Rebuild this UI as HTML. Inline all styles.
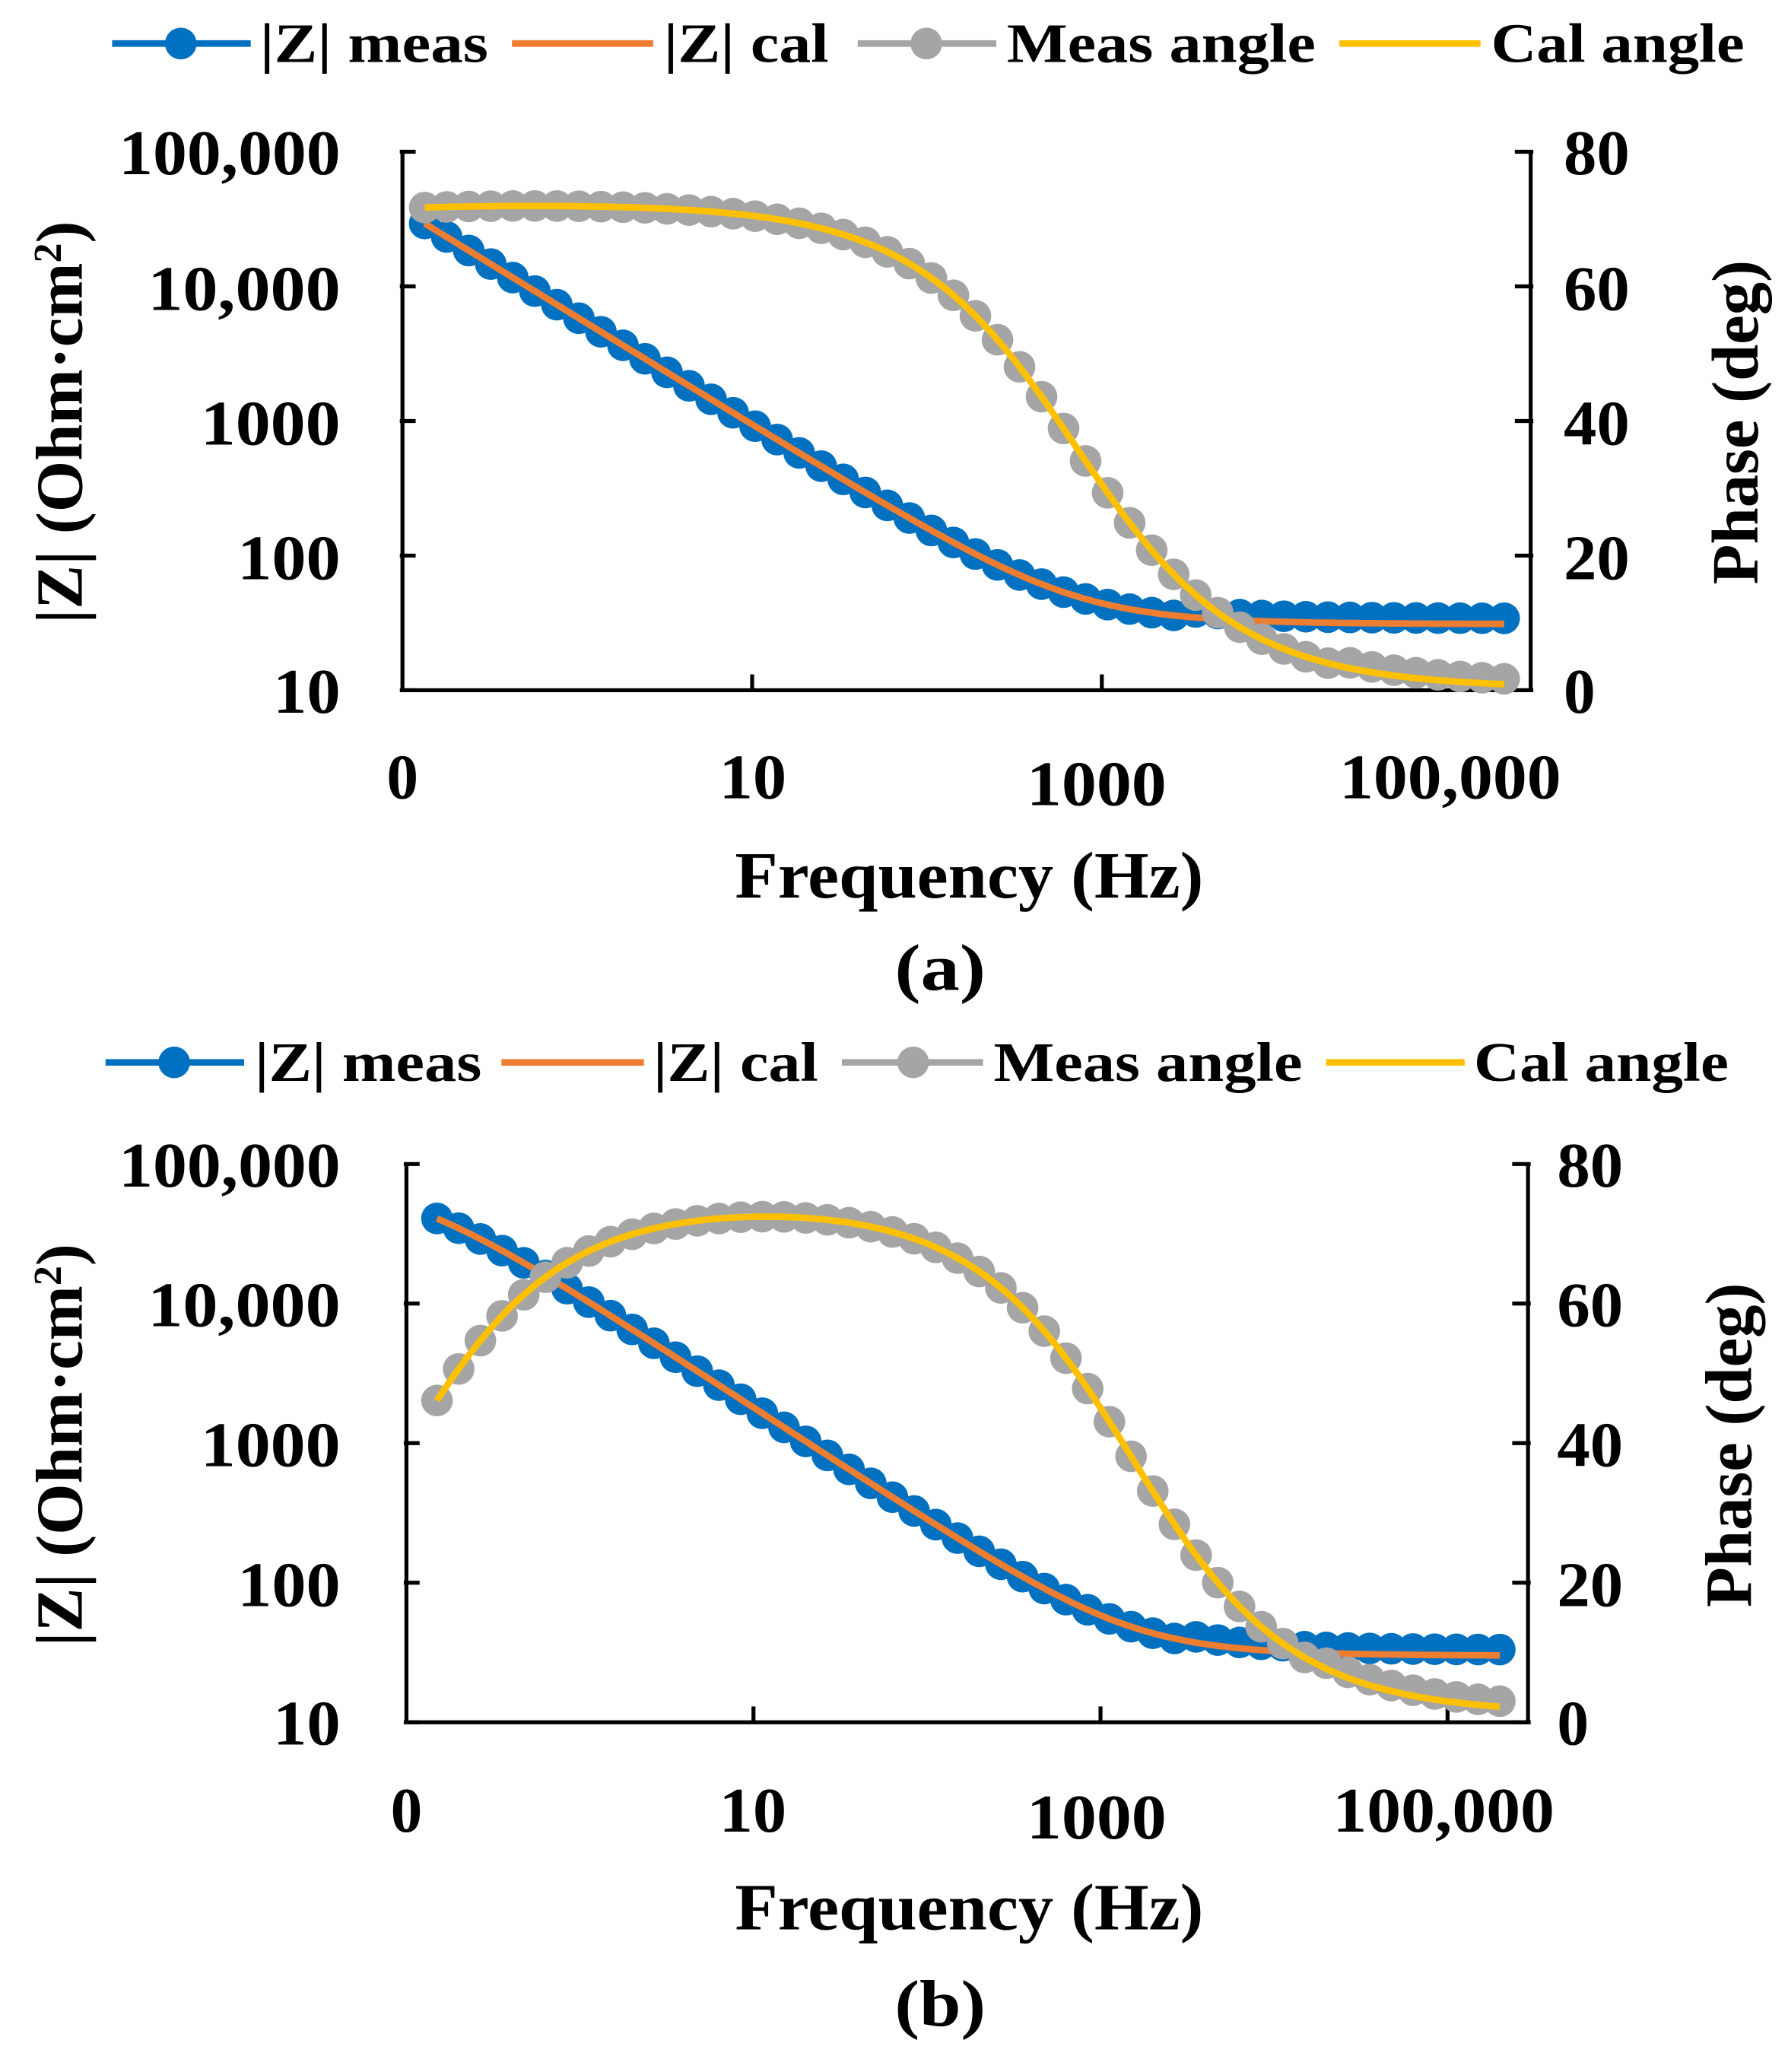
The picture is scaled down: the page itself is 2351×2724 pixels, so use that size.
<!DOCTYPE html>
<html><head><meta charset="utf-8"><style>
html,body{margin:0;padding:0;background:#fff}
svg{display:block}
text{font-family:"Liberation Serif",serif;font-weight:bold;fill:#000}
</style></head><body>
<svg id="s" width="2351" height="2724" viewBox="0 0 1355 1570" preserveAspectRatio="none" xmlns="http://www.w3.org/2000/svg">
<g>
<line x1="85" y1="33" x2="190" y2="33" stroke="#0070C0" stroke-width="5"/><circle cx="137" cy="33" r="12" fill="#0070C0"/>
<text x="197" y="47" font-size="42" textLength="173" lengthAdjust="spacingAndGlyphs">|Z| meas</text>
<line x1="388" y1="33" x2="495" y2="33" stroke="#ED7D31" stroke-width="5"/>
<text x="503" y="47" font-size="42" textLength="125" lengthAdjust="spacingAndGlyphs">|Z| cal</text>
<line x1="650" y1="33" x2="755" y2="33" stroke="#A5A5A5" stroke-width="5"/><circle cx="702" cy="33" r="12" fill="#A5A5A5"/>
<text x="763" y="47" font-size="42" textLength="234" lengthAdjust="spacingAndGlyphs">Meas angle</text>
<line x1="1015" y1="33" x2="1122" y2="33" stroke="#FFC000" stroke-width="5"/>
<text x="1130" y="47" font-size="42" textLength="192" lengthAdjust="spacingAndGlyphs">Cal angle</text>
</g>
<g>
<line x1="80" y1="805" x2="185" y2="805" stroke="#0070C0" stroke-width="5"/><circle cx="132" cy="805" r="12" fill="#0070C0"/>
<text x="193" y="819" font-size="42" textLength="172" lengthAdjust="spacingAndGlyphs">|Z| meas</text>
<line x1="380" y1="805" x2="488" y2="805" stroke="#ED7D31" stroke-width="5"/>
<text x="495" y="819" font-size="42" textLength="125" lengthAdjust="spacingAndGlyphs">|Z| cal</text>
<line x1="638" y1="805" x2="745" y2="805" stroke="#A5A5A5" stroke-width="5"/><circle cx="692" cy="805" r="12" fill="#A5A5A5"/>
<text x="753" y="819" font-size="42" textLength="234" lengthAdjust="spacingAndGlyphs">Meas angle</text>
<line x1="1005" y1="805" x2="1110" y2="805" stroke="#FFC000" stroke-width="5"/>
<text x="1117" y="819" font-size="42" textLength="193" lengthAdjust="spacingAndGlyphs">Cal angle</text>
</g>
<g>
<text x="90" y="132" font-size="48" textLength="168" lengthAdjust="spacingAndGlyphs">100,000</text>
<text x="112" y="235" font-size="48" textLength="146" lengthAdjust="spacingAndGlyphs">10,000</text>
<text x="152" y="337" font-size="48" textLength="106" lengthAdjust="spacingAndGlyphs">1000</text>
<text x="180" y="439" font-size="48" textLength="78" lengthAdjust="spacingAndGlyphs">100</text>
<text x="207" y="540" font-size="48" textLength="51" lengthAdjust="spacingAndGlyphs">10</text>
<text x="1185" y="132" font-size="48" textLength="50" lengthAdjust="spacingAndGlyphs">80</text>
<text x="1185" y="235" font-size="48" textLength="50" lengthAdjust="spacingAndGlyphs">60</text>
<text x="1185" y="337" font-size="48" textLength="50" lengthAdjust="spacingAndGlyphs">40</text>
<text x="1185" y="439" font-size="48" textLength="50" lengthAdjust="spacingAndGlyphs">20</text>
<text x="1185" y="540" font-size="48">0</text>
<text x="305" y="605" text-anchor="middle" font-size="48">0</text>
<text x="545" y="605" font-size="48" textLength="51" lengthAdjust="spacingAndGlyphs">10</text>
<text x="778" y="610" font-size="48" textLength="106" lengthAdjust="spacingAndGlyphs">1000</text>
<text x="1015" y="605" font-size="48" textLength="168" lengthAdjust="spacingAndGlyphs">100,000</text>
<text x="557" y="680" font-size="50" textLength="355" lengthAdjust="spacingAndGlyphs">Frequency (Hz)</text>
<text x="678" y="750" font-size="50" textLength="69" lengthAdjust="spacingAndGlyphs">(a)</text>
<text transform="translate(62,320) rotate(-90)" text-anchor="middle" font-size="50">|Z| (Ohm·cm<tspan dy="-16" font-size="30">2</tspan><tspan dy="16">)</tspan></text>
<text transform="translate(1332,320) rotate(-90)" text-anchor="middle" font-size="50">Phase (deg)</text>
</g>
<g>
<text x="90" y="899" font-size="48" textLength="168" lengthAdjust="spacingAndGlyphs">100,000</text>
<text x="112" y="1005" font-size="48" textLength="146" lengthAdjust="spacingAndGlyphs">10,000</text>
<text x="152" y="1111" font-size="48" textLength="106" lengthAdjust="spacingAndGlyphs">1000</text>
<text x="180" y="1217" font-size="48" textLength="78" lengthAdjust="spacingAndGlyphs">100</text>
<text x="207" y="1322" font-size="48" textLength="51" lengthAdjust="spacingAndGlyphs">10</text>
<text x="1180" y="899" font-size="48" textLength="50" lengthAdjust="spacingAndGlyphs">80</text>
<text x="1180" y="1005" font-size="48" textLength="50" lengthAdjust="spacingAndGlyphs">60</text>
<text x="1180" y="1111" font-size="48" textLength="50" lengthAdjust="spacingAndGlyphs">40</text>
<text x="1180" y="1217" font-size="48" textLength="50" lengthAdjust="spacingAndGlyphs">20</text>
<text x="1180" y="1322" font-size="48">0</text>
<text x="308" y="1388" text-anchor="middle" font-size="48">0</text>
<text x="545" y="1388" font-size="48" textLength="51" lengthAdjust="spacingAndGlyphs">10</text>
<text x="778" y="1393" font-size="48" textLength="106" lengthAdjust="spacingAndGlyphs">1000</text>
<text x="1010" y="1388" font-size="48" textLength="168" lengthAdjust="spacingAndGlyphs">100,000</text>
<text x="557" y="1462" font-size="50" textLength="355" lengthAdjust="spacingAndGlyphs">Frequency (Hz)</text>
<text x="678" y="1535" font-size="50" textLength="69" lengthAdjust="spacingAndGlyphs">(b)</text>
<text transform="translate(62,1095) rotate(-90)" text-anchor="middle" font-size="50">|Z| (Ohm·cm<tspan dy="-16" font-size="30">2</tspan><tspan dy="16">)</tspan></text>
<text transform="translate(1327,1095) rotate(-90)" text-anchor="middle" font-size="50">Phase (deg)</text>
</g>
<g id="plots"></g>
</svg>
<script>
(function(){
var NS="http://www.w3.org/2000/svg",g=document.getElementById('plots');
function el(t,a){var e=document.createElementNS(NS,t);for(var k in a)e.setAttribute(k,a[k]);g.appendChild(e);return e;}
function panel(P){
 var X=function(f){return P.x0+(Math.log10(f)+1)*P.dx;};
 var Yz=function(z){return P.top+(5-Math.log10(z))*(P.bot-P.top)/4;};
 var Yp=function(p){return P.bot-p*(P.bot-P.top)/80;};
 function Z(f){var w=2*Math.PI*f,n=P.n,q=P.Q*Math.pow(w,n);
  var yr=1/P.R+q*Math.cos(n*Math.PI/2),yi=q*Math.sin(n*Math.PI/2);
  var d=yr*yr+yi*yi,zr=yr/d+P.Rs,zi=-yi/d;
  return [Math.sqrt(zr*zr+zi*zi),Math.atan2(-zi,zr)*180/Math.PI];}
 var pa=[],pb=[],pts=[];
 var l0=Math.log10(P.f0),l1=Math.log10(P.f1);
 for(var i=0;i<=300;i++){var f=Math.pow(10,l0+(l1-l0)*i/300),z=Z(f);
  var ph=z[1]+P.off;
  pa.push(X(f).toFixed(1)+","+Yz(z[0]).toFixed(1));pb.push(X(f).toFixed(1)+","+Yp(ph).toFixed(1));}
 var N=Math.round((l1-l0)*8);
 for(var i=0;i<=N;i++){var f=Math.pow(10,l0+(l1-l0)*i/N),z=Z(f);pts.push([f,z]);}
 el('line',{x1:P.x0,y1:P.top,x2:P.x0,y2:P.bot,stroke:'#000','stroke-width':3});
 el('line',{x1:P.x1,y1:P.top,x2:P.x1,y2:P.bot,stroke:'#000','stroke-width':3});
 el('line',{x1:P.x0,y1:P.bot,x2:P.x1,y2:P.bot,stroke:'#000','stroke-width':3});
 for(var k=0;k<5;k++){var y=P.top+k*(P.bot-P.top)/4;
  el('line',{x1:P.x0-2,y1:y,x2:P.x0+10,y2:y,stroke:'#000','stroke-width':3});
  el('line',{x1:P.x1-12,y1:y,x2:P.x1+2,y2:y,stroke:'#000','stroke-width':3});}
 for(var k=1;k<=3;k++){var x=P.x0+2*k*P.dx;
  el('line',{x1:x,y1:P.bot-12,x2:x,y2:P.bot,stroke:'#000','stroke-width':3});}
 pts.forEach(function(p){var zz=p[1][0]*(p[0]>3000?1.1:1);el('circle',{cx:X(p[0]),cy:Yz(zz),r:12,fill:'#0070C0'});});
 el('polyline',{points:pa.join(' '),fill:'none',stroke:'#ED7D31','stroke-width':5});
 pts.forEach(function(p){var ph=p[1][1]+P.off+(p[0]>20000?0.8:0);el('circle',{cx:X(p[0]),cy:Yp(ph),r:12,fill:'#A5A5A5'});});
 el('polyline',{points:pb.join(' '),fill:'none',stroke:'#FFC000','stroke-width':5});
}
panel({x0:305,x1:1160,dx:132.5,top:115,bot:523,f0:0.134,f1:2e5,n:0.80,Q:3.9e-5,R:3e6,Rs:31,off:0.3});
panel({x0:308,x1:1158,dx:131.5,top:882,bot:1305,f0:0.15,f1:2e5,n:0.815,Q:1.9e-5,R:8.2e4,Rs:30,off:1.2});
})();
</script>
</body></html>
